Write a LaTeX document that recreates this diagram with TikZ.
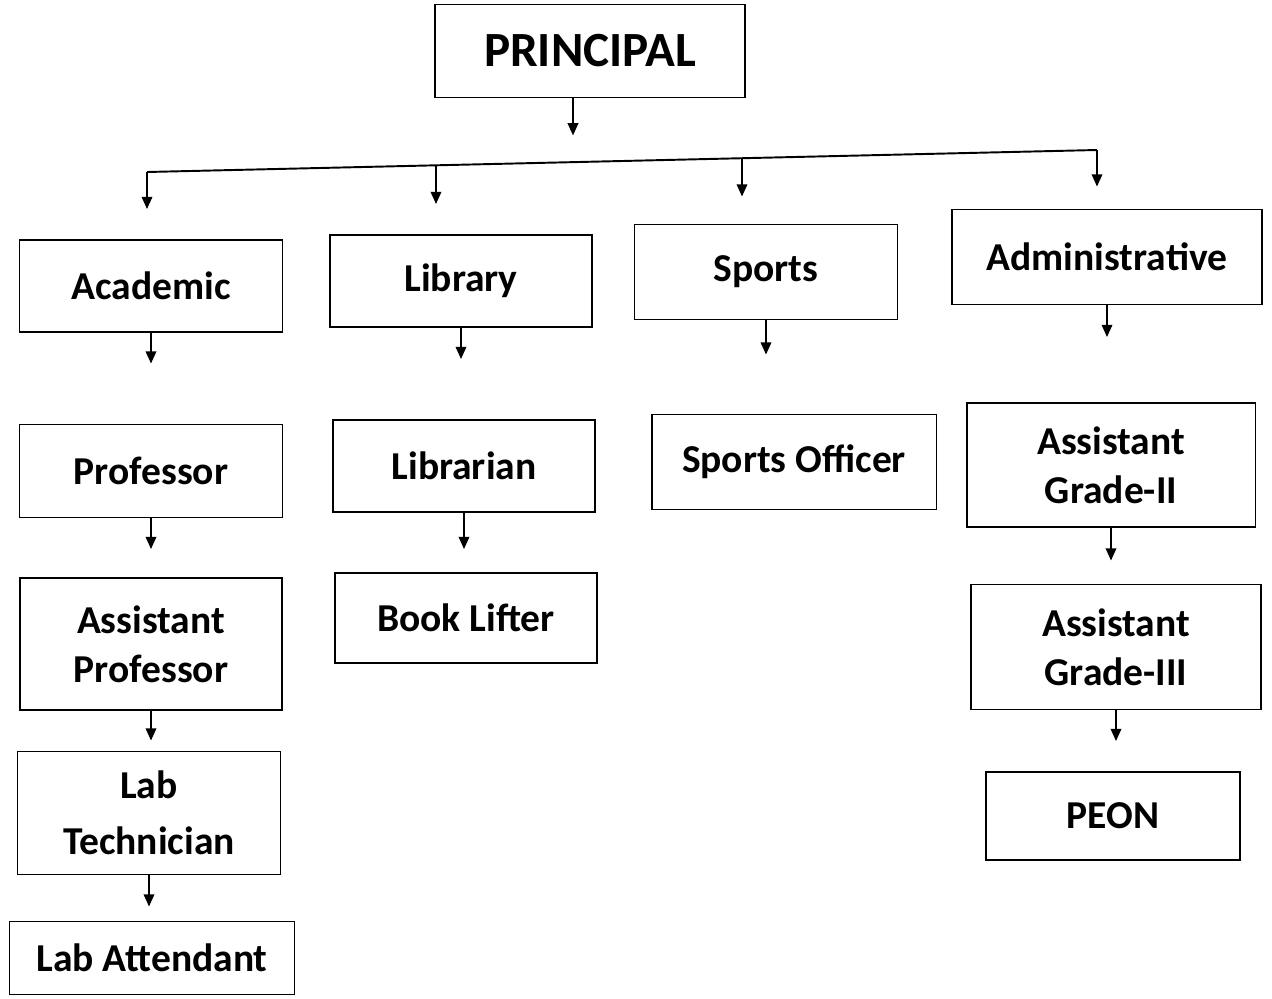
\documentclass[tikz,border=0pt]{standalone}
\usepackage{fontspec}
\setmainfont{Carlito}
\usetikzlibrary{arrows.meta,positioning,calc}
\tikzset{
  box/.style={draw,line width=1.1pt,align=center,inner sep=2pt,
    font=\bfseries\fontsize{22.5}{28}\selectfont},
  arr/.style={line width=1.1pt,-{Triangle[length=7pt,width=6pt]}}
}

\begin{document}
\begin{tikzpicture}[x=0.02cm,y=-0.02cm]
    \useasboundingbox (0,0) rectangle (1272,998);

    \node [box,minimum width=6.2cm,minimum height=1.86cm,
      font=\bfseries\fontsize{28}{32}\selectfont] (prin) at (590,51) {PRINCIPAL};

    \node [box,minimum width=5.26cm,minimum height=1.84cm] (acad) at (151,286) {Academic};
    \node [box,minimum width=5.24cm,minimum height=1.84cm] (lib) at (461,281) {Library};
    \node [box,minimum width=5.26cm,minimum height=1.9cm] (spo) at (766,272) {Sports};
    \node [box,minimum width=6.2cm,minimum height=1.9cm] (adm) at (1107,257) {Administrative};

    \node [box,minimum width=5.26cm,minimum height=1.86cm] (prof) at (151,471) {Professor};
    \node [box,minimum width=5.24cm,minimum height=1.84cm] (libr) at (464,466) {Librarian};
    \node [box,minimum width=5.7cm,minimum height=1.9cm] (so) at (794,462) {Sports Officer};
    \node [box,minimum width=5.78cm,minimum height=2.48cm] (ag2) at (1111,465) {Assistant\\Grade-II};

    \node [box,minimum width=5.24cm,minimum height=2.64cm] (ap) at (151,644) {Assistant\\Professor};
    \node [box,minimum width=5.24cm,minimum height=1.8cm] (bl) at (466,618) {Book Lifter};
    \node [box,minimum width=5.8cm,minimum height=2.5cm] (ag3) at (1116,647) {Assistant\\Grade-III};

    \node [box,minimum width=5.26cm,minimum height=2.46cm,
      font=\bfseries\fontsize{22.5}{32}\selectfont] (lt) at (149,813) {Lab\\Technician};
    \node [box,minimum width=5.08cm,minimum height=1.76cm] (peon) at (1113,816) {PEON};
    \node [box,minimum width=5.7cm,minimum height=1.46cm] (la) at (152,958) {Lab Attendant};

    % principal down to the bus
    \coordinate (p1) at ([xshift=-0.34cm]prin.south);
    \draw [arr] (p1) -- ++(0,37) coordinate (p2);

    \path
    coordinate (b1) at (147,172)
    coordinate (b2) at (436,165)
    coordinate (b3) at (742,158)
    coordinate (b4) at (1097,150);
    \draw [line width=1.1pt] (b1) -- (b4);
    \draw [arr,shorten >=0.6cm] (b1) -- (b1 |- acad.north);
    \draw [arr,shorten >=0.6cm] (b2) -- (b2 |- lib.north);
    \draw [arr,shorten >=0.54cm] (b3) -- (b3 |- spo.north);
    \draw [arr,shorten >=0.44cm] (b4) -- (b4 |- adm.north);

    % box to box
    \foreach \a/\b/\g in {acad/prof/1.2cm, prof/ap/0.56cm, ap/lt/0.2cm, lt/la/0.28cm,
        lib/libr/1.2cm, libr/bl/0.46cm, spo/so/1.18cm,
        adm/ag2/1.3cm, ag2/ag3/0.46cm, ag3/peon/0.6cm}
      \draw [arr,shorten >=\g] (\a.south) -- (\a.south |- \b.north);
\end{tikzpicture}
\end{document}
